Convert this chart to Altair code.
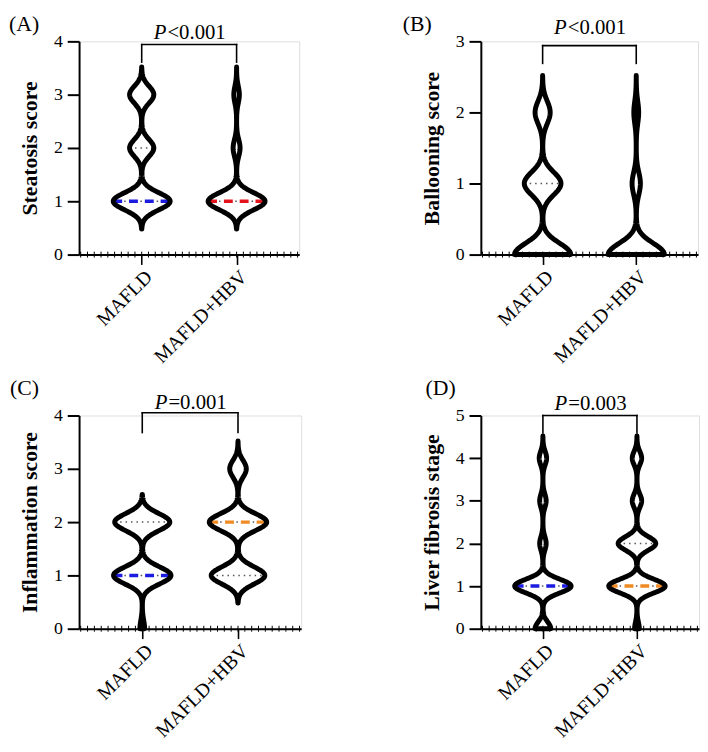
import altair as alt
import pandas as pd

FONT = "Liberation Serif"

GROUPS = ["MAFLD", "MAFLD+HBV"]
GROUP_POS = [1, 2]

PANEL_LABELS = ["(A)", "(B)", "(C)", "(D)"]
Y_TITLES = ["Steatosis score", "Ballooning score", "Inflammation score", "Liver fibrosis stage"]
Y_MAX = [4, 3, 4, 5]
P_TEXT = ["<0.001", "<0.001", "=0.001", "=0.003"]

# score levels and number of patients at each level
A_LEVELS = [1, 2, 3]
A_MAFLD = [54, 23, 23]
A_HBV = [82, 10, 8]
B_LEVELS = [0, 1, 2]
B_MAFLD = [52, 34, 14]
B_HBV = [81, 12, 7]
C_LEVELS = [0, 1, 2, 3]
C_MAFLD = [4, 49, 47, 0]
C_HBV = [0, 42, 45, 13]
D_LEVELS = [0, 1, 2, 3, 4]
D_MAFLD = [17, 61, 7, 7, 8]
D_HBV = [4, 48, 32, 8, 8]

LEVELS = [A_LEVELS, B_LEVELS, C_LEVELS, D_LEVELS]
COUNTS = [[A_MAFLD, A_HBV], [B_MAFLD, B_HBV], [C_MAFLD, C_HBV], [D_MAFLD, D_HBV]]

MEDIAN_COLORS = [["#1c1ce0", "#e3141b"], ["#1c1ce0", "#f08a22"],
                 ["#1c1ce0", "#f08a22"], ["#1c1ce0", "#f08a22"]]

# significance bracket (data units)
BRACKET_Y = [3.94, 2.94, 4.05, 5.0]
LEG_Y = [3.61, 2.69, 3.68, 4.59]
P_Y = [4.05, 3.10, 4.13, 5.14]

# styling
PANEL_W = [223, 220, 225, 221]
PANEL_H = 216
LABEL_DX = [-71, -79, -70, -56]
LABEL_DY = [-11, -11, -21, -21]
X_DOMAIN = [0.34, 2.66]
BW = 0.16
HALF_W = 0.30
TAIL = 0.52
MINOR_PER_UNIT = 14
TOP_ANCHOR = -60          # invisible layout anchors (pixels, relative to plot)
BOTTOM_ANCHOR = PANEL_H + 150


def panel(i):
    rows = []
    for g, pos, cnts in zip(GROUPS, GROUP_POS, COUNTS[i]):
        for lv, c in zip(LEVELS[i], cnts):
            rows += [{"group": g, "pos": pos, "value": lv}] * c
    raw = pd.DataFrame(rows)
    ymax = Y_MAX[i]
    lo, hi = -0.6, ymax + 0.6
    steps = int(round((hi - lo) / 0.01))

    xscale = alt.Scale(domain=X_DOMAIN, nice=False, zero=False)
    yscale = alt.Scale(domain=[0, ymax], nice=False, zero=False)
    label_expr = (f"datum.value == {GROUP_POS[0]} ? '{GROUPS[0]}' : "
                  f"(datum.value == {GROUP_POS[1]} ? '{GROUPS[1]}' : '')")
    xaxis = alt.Axis(
        title=None, values=GROUP_POS, labelExpr=label_expr, labelAngle=-45,
        labelFontSize=20, labelFont=FONT, labelOverlap=False, labelFlush=False,
        labelPadding=2, domainWidth=2, domainColor="black", grid=False,
        tickColor="black", tickSize=10, tickWidth=1.6,
    )
    yaxis = alt.Axis(
        title=Y_TITLES[i], values=list(range(ymax + 1)), labelFontSize=18,
        labelFont=FONT, titleFont=FONT, titleFontSize=22, titleFontWeight="bold",
        titlePadding=12, tickSize=12, tickWidth=2, domainWidth=2, labelPadding=5,
        domainColor="black", tickColor="black", grid=False, labelFlush=False,
    )

    def X(f):
        return alt.X(f, type="quantitative", scale=xscale, axis=xaxis)

    def Y(f):
        return alt.Y(f, type="quantitative", scale=yscale, axis=yaxis)

    c0, c1 = MEDIAN_COLORS[i]
    base = (
        alt.Chart(raw)
        .transform_joinaggregate(
            vmin="min(value)", vmax="max(value)", med="median(value)",
            q1="q1(value)", q3="q3(value)", groupby=["group"])
        .transform_density(
            "value", as_=["y", "d"],
            groupby=["group", "pos", "vmin", "vmax", "med", "q1", "q3"],
            extent=[lo, hi], steps=steps, bandwidth=BW)
        .transform_joinaggregate(dmax="max(d)", groupby=["group"])
        .transform_calculate(hw=f"datum.d / datum.dmax * {HALF_W}")
        .transform_calculate(xl="datum.pos - datum.hw", xr="datum.pos + datum.hw",
                             mc=f"datum.group == '{GROUPS[0]}' ? '{c0}' : '{c1}'")
        .transform_filter(
            f"datum.y >= max(0, datum.vmin - {TAIL}) - 1e-6 && datum.y <= datum.vmax + {TAIL}")
    )

    fill = base.mark_area(orient="horizontal", color="white", opacity=1).encode(
        y=Y("y"), x=X("xl"), x2="xr:Q", detail="group:N")
    quart = base.transform_filter(
        "abs(datum.y - datum.q1) < 0.004 || abs(datum.y - datum.q3) < 0.004"
    ).mark_rule(color="#555555", strokeWidth=1.5, strokeDash=[1.5, 4]).encode(
        y=Y("y"), x=X("xl"), x2="xr:Q")
    med = base.transform_filter("abs(datum.y - datum.med) < 0.004").mark_rule(
        strokeWidth=3.5, strokeDash=[9, 7]).encode(
        y=Y("y"), x=X("xl"), x2="xr:Q", color=alt.Color("mc:N", scale=None))
    outline = base.mark_area(orient="horizontal", fillOpacity=0, fill="white",
                             stroke="black", strokeWidth=5, strokeJoin="round").encode(
        y=Y("y"), x=X("xl"), x2="xr:Q", detail="group:N")

    minor = alt.Chart(alt.sequence(-9, 24, 1, as_="k")).transform_calculate(
        tx=f"{GROUP_POS[0]} + datum.k / {MINOR_PER_UNIT}"
    ).mark_rule(color="black", strokeWidth=1).encode(
        x=X("tx"), y=alt.value(PANEL_H - 3), y2=alt.value(PANEL_H + 3))

    b, leg = BRACKET_Y[i], LEG_Y[i]
    br_df = pd.DataFrame({
        "x": [GROUP_POS[0], GROUP_POS[0], GROUP_POS[1]],
        "x2": [GROUP_POS[1], GROUP_POS[0], GROUP_POS[1]],
        "y": [b, b, b],
        "y2": [b, leg, leg],
    })
    bracket = alt.Chart(br_df).mark_rule(color="black", strokeWidth=1.6,
                                         strokeCap="square").encode(
        x=X("x"), x2="x2:Q", y=Y("y"), y2="y2:Q")

    p_df = pd.DataFrame({"x": [sum(GROUP_POS) / 2], "y": [P_Y[i]], "t": [P_TEXT[i]]})
    p_italic = alt.Chart(p_df).mark_text(
        text="P", font=FONT, fontSize=21, fontStyle="italic", align="right",
        baseline="alphabetic", dx=-23, color="black").encode(x=X("x"), y=Y("y"))
    p_rest = alt.Chart(p_df).mark_text(
        font=FONT, fontSize=21, align="left", baseline="alphabetic", dx=-22,
        color="black").encode(x=X("x"), y=Y("y"), text="t:N")

    lab = alt.Chart(alt.Data(values=[{"t": PANEL_LABELS[i]}])).mark_text(
        font=FONT, fontSize=22, align="left", baseline="alphabetic", color="black").encode(
        x=alt.value(LABEL_DX[i]), y=alt.value(LABEL_DY[i]), text="t:N")

    layers = [fill, quart, med, outline, minor, bracket, p_italic, p_rest, lab]
    if i == 0:
        layers.append(alt.Chart(alt.Data(values=[{}])).mark_rule(
            strokeOpacity=0, strokeWidth=0.01).encode(
            x=alt.value(0), x2=alt.value(1), y=alt.value(TOP_ANCHOR),
            y2=alt.value(TOP_ANCHOR)))
    if i == 2:
        layers.append(alt.Chart(alt.Data(values=[{}])).mark_rule(
            strokeOpacity=0, strokeWidth=0.01).encode(
            x=alt.value(0), x2=alt.value(1), y=alt.value(BOTTOM_ANCHOR),
            y2=alt.value(BOTTOM_ANCHOR)))

    return alt.layer(*layers).properties(width=PANEL_W[i], height=PANEL_H)


chart = (
    alt.concat(panel(0), panel(1), panel(2), panel(3), columns=2,
               spacing={"row": 163, "column": 182}, bounds="flush")
    .properties(padding={"top": -32, "left": 0, "right": 0, "bottom": -38})
    .configure_view(stroke=None)
    .configure(font=FONT)
)

chart.save("out.html", embed_options={"renderer": "svg", "actions": False})
